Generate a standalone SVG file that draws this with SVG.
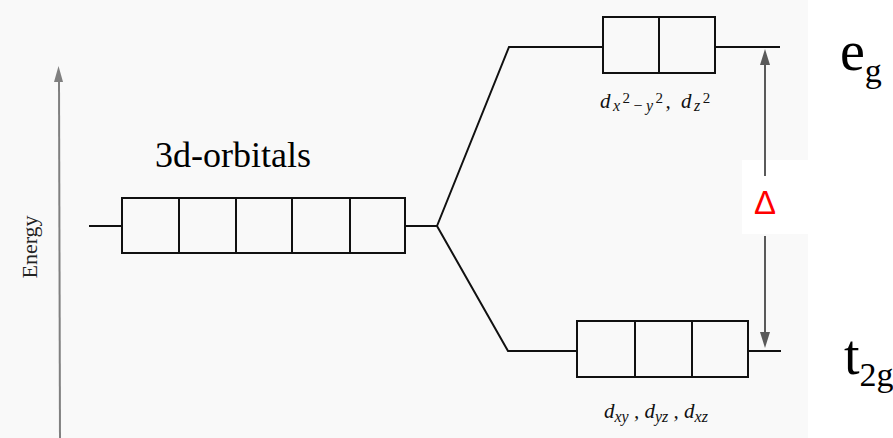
<svg xmlns="http://www.w3.org/2000/svg" width="893" height="438" viewBox="0 0 893 438">
<style>
.ln{stroke:#111;stroke-width:2;fill:none}
.box{stroke:#111;stroke-width:2;fill:none}
.ax{stroke:#808080;stroke-width:2;fill:none}
.dl{stroke:#5a5a5a;stroke-width:2;fill:none}
</style>
<rect x="0" y="0" width="893" height="438" fill="#ffffff"/>
<rect x="0" y="0" width="808" height="438" fill="#f9f9f9"/>
<rect x="742" y="160" width="66" height="74" fill="#ffffff"/>

<g id="energy-axis">
<line class="ax" x1="59" y1="80" x2="60" y2="438"/>
<path d="M58.5 66 L63 82 L54 82 Z" fill="#808080"/>
<text font-family="'Liberation Serif', 'Times New Roman', serif" font-size="22" fill="#222" transform="translate(37,247) rotate(-90)" text-anchor="middle">Energy</text>
</g>

<g id="connectors">
<line class="ln" x1="89" y1="226" x2="122" y2="226"/>
<line class="ln" x1="405" y1="226" x2="437" y2="226"/>
<polyline class="ln" points="437,226 509,47 603,47"/>
<polyline class="ln" points="437,226 508,351 577,351"/>
<line class="ln" x1="715" y1="47" x2="780" y2="47"/>
<line class="ln" x1="748" y1="351" x2="781" y2="351"/>
</g>

<g id="d-orbitals">
<rect class="box" x="122" y="198" width="283" height="55"/>
<line class="box" x1="179" y1="198" x2="179" y2="253"/>
<line class="box" x1="236" y1="198" x2="236" y2="253"/>
<line class="box" x1="292" y1="198" x2="292" y2="253"/>
<line class="box" x1="350" y1="198" x2="350" y2="253"/>
<text font-family="'Liberation Serif', 'Times New Roman', serif" x="155" y="167" font-size="36" fill="#000">3d-orbitals</text>
</g>

<g id="eg-level">
<rect class="box" x="603" y="17" width="112" height="56"/>
<line class="box" x1="659" y1="17" x2="659" y2="73"/>
<text font-family="'Liberation Serif', 'Times New Roman', serif" font-style="italic" font-size="21" letter-spacing="2.5" fill="#111" x="600" y="108">d<tspan font-size="16" dy="3">x</tspan><tspan font-size="15" font-style="normal" dy="-8">2</tspan><tspan font-size="16" dy="8">−y</tspan><tspan font-size="15" font-style="normal" dy="-8">2</tspan><tspan dy="5">,  d</tspan><tspan font-size="16" dy="3">z</tspan><tspan font-size="15" font-style="normal" dy="-8">2</tspan></text>
<text font-family="'Liberation Serif', 'Times New Roman', serif" fill="#000" x="840" y="70" font-size="56">e<tspan font-size="34" dy="12">g</tspan></text>
</g>

<g id="t2g-level">
<rect class="box" x="577" y="321" width="171" height="56"/>
<line class="box" x1="635" y1="321" x2="635" y2="377"/>
<line class="box" x1="692" y1="321" x2="692" y2="377"/>
<text font-family="'Liberation Serif', 'Times New Roman', serif" font-style="italic" font-size="21" fill="#111" x="604" y="418">d<tspan font-size="16" dy="4">xy</tspan><tspan dy="-4"> , d</tspan><tspan font-size="16" dy="4">yz</tspan><tspan dy="-4"> , d</tspan><tspan font-size="16" dy="4">xz</tspan></text>
<text font-family="'Liberation Serif', 'Times New Roman', serif" fill="#000" x="844" y="374" font-size="56">t<tspan font-size="34" dy="12">2g</tspan></text>
</g>

<g id="delta">
<line class="dl" x1="765" y1="62" x2="765" y2="176"/>
<path d="M765 49 L770 65 L760 65 Z" fill="#5a5a5a"/>
<line class="dl" x1="765" y1="236" x2="765" y2="335"/>
<path d="M765 348 L770 332 L760 332 Z" fill="#5a5a5a"/>
<text x="765" y="214" font-family="'Liberation Sans', Arial, sans-serif" font-size="33" fill="#ff0000" text-anchor="middle">Δ</text>
</g>
</svg>
